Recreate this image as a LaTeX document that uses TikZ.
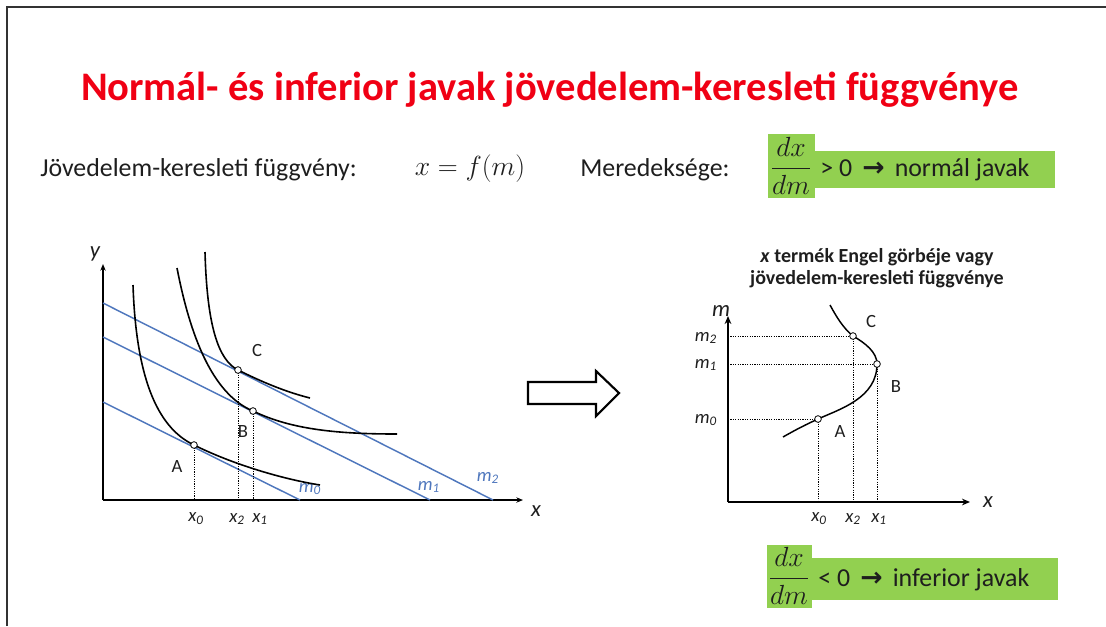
\documentclass[tikz,border=0pt]{standalone}
\usepackage{fontspec}
\setmainfont{Carlito}
\newfontfamily\dejavu{DejaVu Sans}
\usetikzlibrary{arrows.meta}
\definecolor{titlered}{RGB}{240,0,20}
\definecolor{budget}{RGB}{79,119,189}
\definecolor{greenbox}{RGB}{146,208,80}
\definecolor{txt}{RGB}{30,30,30}
\begin{document}
\begin{tikzpicture}[x=0.75pt,y=-0.75pt,
  axis/.style={line width=1.1pt,-{Stealth[length=5pt,width=4pt]}},
  axisR/.style={line width=1.5pt,-{Stealth[length=6pt,width=5pt]}},
  budgetline/.style={budget,line width=1.1pt},
  icurve/.style={black,line width=1.2pt},
  pt/.style={circle,draw,fill=white,inner sep=0pt,minimum size=5pt,line width=0.6pt},
  guide/.style={line width=0.7pt,dash pattern=on 0.9pt off 0.9pt},
  lbl/.style={inner sep=0pt,font=\fontsize{14}{16}\selectfont,text=txt},
  xl/.style={inner sep=0pt,font=\fontsize{14}{16}\selectfont\itshape,text=txt},
  ml/.style={inner sep=0pt,font=\fontsize{14}{16}\selectfont\itshape,text=budget},
  body/.style={inner sep=0pt,font=\fontsize{19.4}{23}\selectfont,text=txt},
  frac/.style={inner sep=0pt,font=\fontsize{21}{25}\selectfont,text=txt},
  arr/.style={}
]
\useasboundingbox (0,0) rectangle (1106,626);
% frame
\coordinate (F1) at (7,626);
\coordinate (F2) at (7,7);
\coordinate (F3) at (1106,7);
\draw[line width=1.5pt,black!80] (F1) -- (F2) -- (F3);

% title
\node[inner sep=0pt,font=\fontsize{30.4}{36}\selectfont\bfseries,text=titlered] (title) at (550,90) {Normál- és inferior javak jövedelem-keresleti függvénye};

% line 2
\node[body,anchor=west] (def) at (40,170) {Jövedelem-keresleti függvény:};
\node[inner sep=0pt,font=\fontsize{21}{25}\selectfont,text=txt] (fm) at (470,169) {$x = f(m)$};
\node[body,anchor=west] (mer) at (580,170) {Meredeksége:};

% green box top
\fill[greenbox] (768,134) rectangle (815,198);
\fill[greenbox] (768,151) rectangle (1055,188);
\node[frac] (fr1) at (791,166) {$\displaystyle\frac{dx}{dm}$};
\node[body,anchor=west] (norm) at (820,170) {> 0\, {\dejavu\bfseries\fontsize{20}{22}\selectfont →}\, normál javak};

% green box bottom
\fill[greenbox] (767,545) rectangle (812,608);
\fill[greenbox] (767,558) rectangle (1058,600);
\node[frac] (fr2) at (789,576) {$\displaystyle\frac{dx}{dm}$};
\node[body,anchor=west] (inf) at (818,580) {< 0\, {\dejavu\bfseries\fontsize{20}{22}\selectfont →}\, inferior javak};

% block arrow
\draw[line width=1.6pt,fill=white,line join=miter]
  (528,382) -- (596,382) -- (596,371) -- (619,393) -- (596,416) -- (596,404) -- (528,404) -- cycle;

% ---------------- left graph ----------------
\coordinate (O1) at (103,500);
\coordinate (Y1) at (103,264);
\coordinate (X1) at (523,500);
\draw[axis] (O1) -- (Y1);
\draw[axis] (O1) -- (X1);
\node[xl,font=\fontsize{17}{19}\selectfont\itshape] (ylab) at (95,254) {y};
\node[xl,font=\fontsize{17}{19}\selectfont\itshape] (xlab) at (536,511) {x};

% budget lines
\coordinate (m0a) at (103,402); \coordinate (m0b) at (300,500);
\coordinate (m1a) at (103,337); \coordinate (m1b) at (430,500);
\coordinate (m2a) at (103,303); \coordinate (m2b) at (493,500);
\draw[budgetline] (m0a) -- (m0b);
\draw[budgetline] (m1a) -- (m1b);
\draw[budgetline] (m2a) -- (m2b);
\node[ml] (m0l) at (310,489) {m\textsubscript{0}};
\node[ml] (m1l) at (429,487) {m\textsubscript{1}};
\node[ml] (m2l) at (488,478) {m\textsubscript{2}};

% tangency points
\coordinate (A) at (194,445);
\coordinate (B) at (253,411);
\coordinate (C) at (238,370);

% indifference curves
\coordinate (I0s) at (133,285); \coordinate (I0e) at (320,485);
\coordinate (I1s) at (177,268); \coordinate (I1e) at (397,434);
\coordinate (I2s) at (205,252); \coordinate (I2e) at (310,398);
\draw[icurve] (I0s) .. controls (136,375) and (156,427) .. (A) .. controls (232,464) and (282,479) .. (I0e);
\draw[icurve] (I1s) .. controls (190,335) and (212,394) .. (B) .. controls (292,430) and (340,434) .. (I1e);
\draw[icurve] (I2s) .. controls (207,325) and (218,360) .. (C) .. controls (262,382) and (286,392) .. (I2e);

\draw[guide] (A) -- (A |- O1);
\draw[guide] (B) -- (B |- O1);
\draw[guide] (C) -- (C |- O1);
\node[pt] (Ap) at (A) {};
\node[pt] (Bp) at (B) {};
\node[pt] (Cp) at (C) {};
\node[lbl] (Al) at (177,467) {A};
\node[lbl] (Bl) at (243,432) {B};
\node[lbl] (Cl) at (257,350) {C};
\node[xl] (x0l) at (196,519) {x\textsubscript{0}};
\node[xl] (x2l) at (237,519) {x\textsubscript{2}};
\node[xl] (x1l) at (260,519) {x\textsubscript{1}};

% ---------------- right graph ----------------
\node[inner sep=0pt,font=\fontsize{15}{18}\selectfont\bfseries,text=txt] (rt1) at (877,257) {\textit{x} termék Engel görbéje vagy};
\node[inner sep=0pt,font=\fontsize{15}{18}\selectfont\bfseries,text=txt] (rt2) at (877,279) {jövedelem-keresleti függvénye};

\coordinate (O2) at (728,502);
\coordinate (Y2) at (728,316);
\coordinate (X2) at (970,502);
\draw[axisR] (O2) -- (Y2);
\draw[axisR] (O2) -- (X2);
\node[xl,font=\fontsize{17}{19}\selectfont\itshape] (mlab) at (721,311) {m};
\node[xl,font=\fontsize{17}{19}\selectfont\itshape] (xlab2) at (988,502) {x};

\coordinate (E0) at (783,437);
\coordinate (A2) at (818,419);
\coordinate (B2) at (877,364);
\coordinate (C2) at (853,336);
\coordinate (E3) at (830,305);
\draw[line width=1.1pt] (E0) .. controls (797,429) and (807,424) .. (A2)
  .. controls (840,409) and (877,398) .. (B2)
  .. controls (877,352) and (865,343) .. (C2)
  .. controls (843,328) and (836,316) .. (E3);

\draw[guide] (A2) -- (A2 |- O2);
\draw[guide] (B2) -- (B2 |- O2);
\draw[guide] (C2) -- (C2 |- O2);
\draw[guide] (O2 |- A2) -- (A2);
\draw[guide] (O2 |- B2) -- (B2);
\draw[guide] (O2 |- C2) -- (C2);
\node[pt] (A2p) at (A2) {};
\node[pt] (B2p) at (B2) {};
\node[pt] (C2p) at (C2) {};
\node[lbl] (A2l) at (840,432) {A};
\node[lbl] (B2l) at (896,387) {B};
\node[lbl] (C2l) at (871,321) {C};
\node[xl] (m2r) at (706,338) {m\textsubscript{2}};
\node[xl] (m1r) at (706,365) {m\textsubscript{1}};
\node[xl] (m0r) at (706,420) {m\textsubscript{0}};
\node[xl] (x0r) at (819,519) {x\textsubscript{0}};
\node[xl] (x2r) at (853,519) {x\textsubscript{2}};
\node[xl] (x1r) at (879,519) {x\textsubscript{1}};
\end{tikzpicture}
\end{document}
